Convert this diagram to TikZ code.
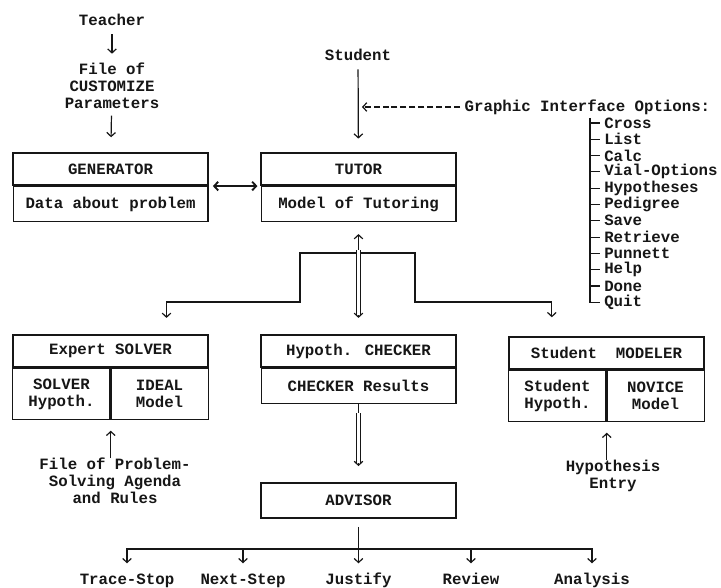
\documentclass[tikz,border=0pt]{standalone}
\usepackage{fontspec}
\setmainfont{Liberation Mono}
\usetikzlibrary{arrows.meta,positioning}
\definecolor{dmink}{HTML}{161616}

\begin{document}
\begin{tikzpicture}[
    x=0.75pt,y=-0.75pt,
    >={Straight Barb[length=3pt,width=6.5pt]},
    every node/.style={font=\fontsize{11.8}{12.6}\selectfont\bfseries,text=dmink},
    head/.style={draw=dmink,line width=1.6pt,minimum width=146pt,minimum height=24pt,inner sep=0pt},
    body/.style={draw=dmink,line width=1pt,minimum width=146pt,minimum height=26pt,inner sep=0pt},
    cell/.style={draw=dmink,line width=1pt,minimum width=73pt,minimum height=38pt,inner sep=0pt,align=center},
    txt/.style={align=center,inner sep=2pt},
    leaf/.style={anchor=base,text height=8pt,text depth=2pt},
    wire/.style={line width=0.9pt,draw=dmink},
    flow/.style={wire,->,shorten <=3pt,shorten >=5pt},
    twin/.style={draw=dmink,line width=0.7pt,double=white,double distance=1.8pt}
  ]
  \useasboundingbox (0,0) rectangle (721,588);
  \node (teacher) at (112,20) {Teacher};
  \node[txt] (custom) at (112,86) {File of\\CUSTOMIZE\\Parameters};
  \node[head] (genh) at (110.5,169) {GENERATOR};
  \node[body,below=0pt of genh] (genb) {Data about problem};
  \node (student) at (358,55) {Student};
  \node[head] (tuth) at (358.5,169) {TUTOR};
  \node[body,below=0pt of tuth] (tutb) {Model of Tutoring};
  \node[anchor=west] (gio) at (460,107) {Graphic Interface Options:};
  \coordinate (trunk) at (590,118);
  \foreach \opt [count=\i] in {Cross,List,Calc,Vial-Options,Hypotheses,Pedigree,Save,Retrieve,Punnett,Help,Done,Quit}
    \node[anchor=west,inner sep=3pt] (opt\i) at (600,{106.7+16.3*\i}) {\opt};
  \node[head] (solvh) at (110.5,351) {Expert SOLVER};
  \node[cell,below right=0pt and 0pt of solvh.south west] (solvl) {SOLVER\\Hypoth.};
  \node[cell,below left=0pt and 0pt of solvh.south east] (solvr) {IDEAL\\Model};
  \node[head] (checkh) at (358.5,351) {Hypoth. CHECKER};
  \node[body,below=0pt of checkh] (checkb) {CHECKER Results};
  \node[head] (modh) at (606.5,353) {Student\ \ MODELER};
  \node[cell,below right=0pt and 0pt of modh.south west] (modl) {Student\\Hypoth.};
  \node[cell,below left=0pt and 0pt of modh.south east] (modr) {NOVICE\\Model};
  \node[txt] (pfile) at (115,481) {File of Problem-\\Solving Agenda\\and Rules};
  \node[txt] (hypentry) at (613,476) {Hypothesis\\Entry};
  \node[head,minimum height=26pt] (advisor) at (358.5,500.5) {ADVISOR};
  \coordinate (bus) at (358.5,549);
  \node[leaf] (trace) at (127,584) {Trace-Stop};
  \node[leaf] (next) at (243,584) {Next-Step};
  \node[leaf] (justify) at (358.5,584) {Justify};
  \node[leaf] (review) at (471,584) {Review};
  \node[leaf] (analysis) at (592,584) {Analysis};
  \coordinate (fork) at (358.5,253);
  \coordinate (forkl) at (300,302);
  \coordinate (forkr) at (415,302);

  \draw[flow] (teacher) -- (custom);
  \draw[flow,shorten >=11pt] (custom) -- (genh);
  \draw[flow,shorten >=10pt] (student) -- (tuth);
  \draw[wire,dash pattern=on 4.5pt off 2.2pt,->,shorten >=3pt] (gio) -- (gio.west -| student);
  \draw[wire] (trunk) |- (opt12.west);
  \foreach \i in {1,...,11} \draw[wire] (opt\i.west -| trunk) -- (opt\i.west);
  \draw[flow,<->,line width=1.4pt,shorten <=3pt,shorten >=2pt] (genh.south east) -- (tuth.south west);
  \draw[flow,shorten <=0pt,shorten >=12pt] (fork) -| (forkl) -| ([xshift=42pt]solvh.north);
  \draw[flow,shorten <=0pt,shorten >=14pt] (fork) -| (forkr) -| ([xshift=-41pt]modh.north);
  \draw[flow,<->,shorten <=9pt,shorten >=12pt] (tutb) -- (checkh);
  \draw[twin,shorten <=21pt,shorten >=14pt] (tutb) -- (checkh);
  \draw[flow,shorten <=0pt,shorten >=12pt] (checkb) -- (advisor);
  \draw[twin,shorten <=7pt,shorten >=14pt] (checkb) -- (advisor);
  \draw[wire,shorten <=6pt] (advisor) -- (bus);
  \foreach \n in {trace,next,justify,review,analysis} \draw[flow,shorten <=0pt,shorten >=4pt] (bus) -| (\n.north);
  \draw[flow,shorten <=-2pt,shorten >=8pt] (pfile.north -| solvl.south east) -- (solvl.south east);
  \draw[flow,shorten <=-2pt,shorten >=8pt] (hypentry.north -| modl.south east) -- (modl.south east);
\end{tikzpicture}
\end{document}
